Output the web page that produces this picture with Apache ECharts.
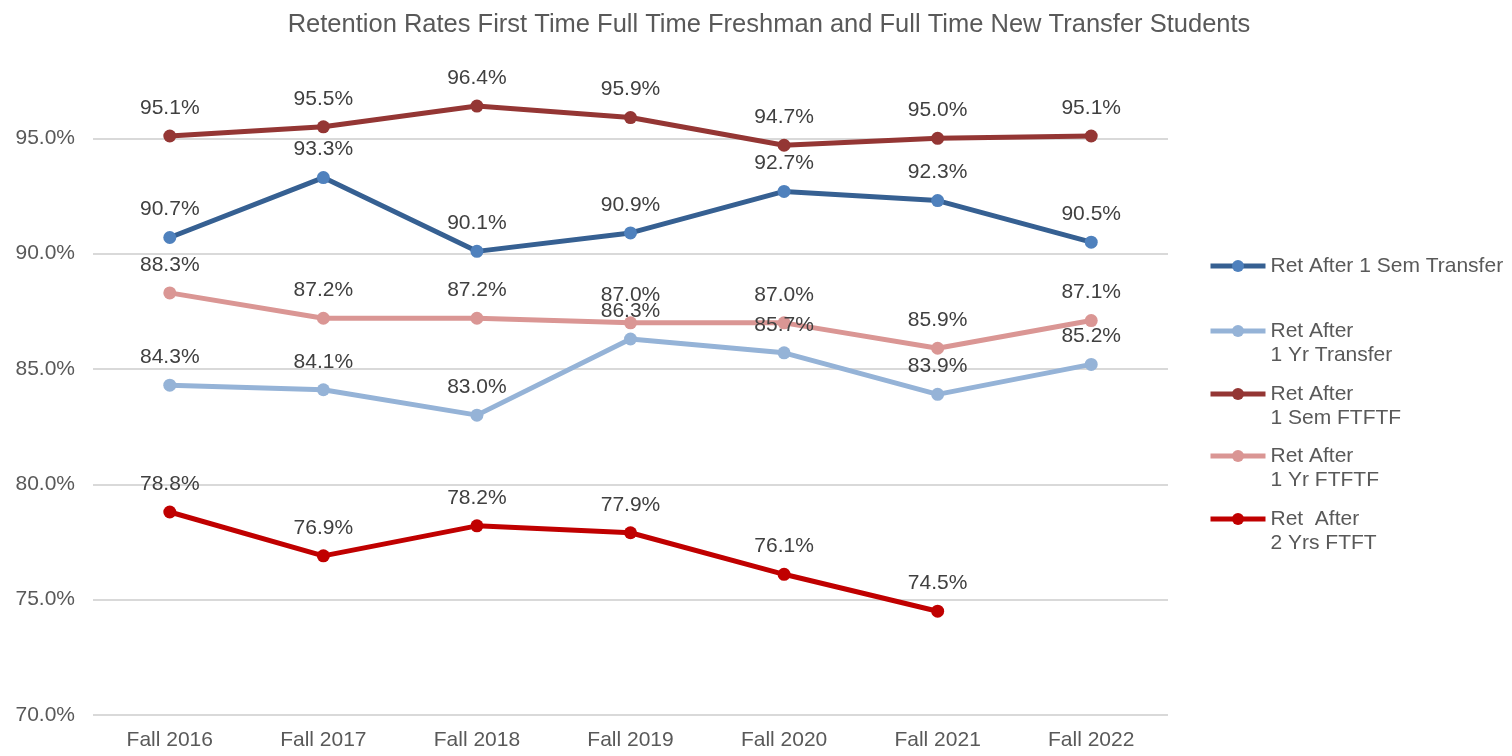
<!DOCTYPE html>
<html>
<head>
<meta charset="utf-8">
<script src="https://cdn.jsdelivr.net/npm/echarts@6/dist/echarts.min.js"></script>
<style>
  html, body { margin: 0; padding: 0; background: #fff; }
  #chart { width: 1512px; height: 756px; }
</style>
</head>
<body>
<div id="chart"></div>
<script>
// data
var terms = ["Fall 2016", "Fall 2017", "Fall 2018", "Fall 2019", "Fall 2020", "Fall 2021", "Fall 2022"];
var semTransfer = [90.7, 93.3, 90.1, 90.9, 92.7, 92.3, 90.5];
var yrTransfer = [84.3, 84.1, 83.0, 86.3, 85.7, 83.9, 85.2];
var semFtftf = [95.1, 95.5, 96.4, 95.9, 94.7, 95.0, 95.1];
var yrFtftf = [88.3, 87.2, 87.2, 87.0, 87.0, 85.9, 87.1];
var twoYrFtft = [78.8, 76.9, 78.2, 77.9, 76.1, 74.5, null];

var names = ["Ret After 1 Sem Transfer", "Ret After 1 Yr Transfer", "Ret After 1 Sem FTFTF", "Ret After 1 Yr FTFTF", "Ret  After 2 Yrs FTFT"];
var legendText = {
  "Ret After 1 Sem Transfer": "Ret After 1 Sem Transfer",
  "Ret After 1 Yr Transfer": "\nRet After\n1 Yr Transfer",
  "Ret After 1 Sem FTFTF": "\nRet After\n1 Sem FTFTF",
  "Ret After 1 Yr FTFTF": "\nRet After\n1 Yr FTFTF",
  "Ret  After 2 Yrs FTFT": "\nRet  After\n2 Yrs FTFT"
};
var legendTops = [254, 295, 358, 420, 483];

var font = "'Liberation Sans', Arial, sans-serif";

function makeSeries(name, data, lineColor, dotColor) {
  return {
    name: name,
    type: "line",
    data: data,
    symbol: "circle",
    symbolSize: 13,
    lineStyle: { color: lineColor, width: 5 },
    itemStyle: { color: dotColor },
    label: {
      show: true,
      position: "top",
      distance: 11,
      color: "#404040",
      fontSize: 21,
      fontFamily: font,
      formatter: function (p) { return p.value.toFixed(1) + "%"; }
    }
  };
}

var myChart = echarts.init(document.getElementById("chart"));

var legends = names.map(function (n, i) {
  return {
    data: [n],
    left: 1208,
    top: legendTops[i],
    padding: 0,
    itemWidth: 55,
    itemHeight: 15,
    lineStyle: { width: 5 },
    formatter: function (name) { return legendText[name]; },
    textStyle: { color: "#595959", fontSize: 21, fontFamily: font, lineHeight: 24 }
  };
});

var option = {
  animation: false,
  title: {
    text: "Retention Rates First Time Full Time Freshman and Full Time New Transfer Students",
    left: 764,
    top: 7,
    textAlign: "center",
    textStyle: { color: "#595959", fontSize: 25.5, fontWeight: "normal", fontFamily: font }
  },
  legend: legends,
  grid: { left: 93, right: 344, top: 23, bottom: 41 },
  xAxis: {
    type: "category",
    data: terms,
    boundaryGap: true,
    axisLine: { show: false },
    axisTick: { show: false },
    axisLabel: { color: "#595959", fontSize: 21, fontFamily: font, margin: 15 }
  },
  yAxis: {
    type: "value",
    min: 70,
    max: 100,
    interval: 5,
    axisLine: { show: false },
    axisTick: { show: false },
    axisLabel: {
      color: "#595959", fontSize: 21, fontFamily: font, margin: 18,
      showMaxLabel: false,
      formatter: function (v) { return v.toFixed(1) + "%"; }
    },
    splitLine: { showMaxLine: false, lineStyle: { color: "#d9d9d9", width: 2 } }
  },
  series: [
    makeSeries(names[0], semTransfer, "#366092", "#4f81bd"),
    makeSeries(names[1], yrTransfer, "#95b3d7", "#95b3d7"),
    makeSeries(names[2], semFtftf, "#943634", "#943634"),
    makeSeries(names[3], yrFtftf, "#da9694", "#da9694"),
    makeSeries(names[4], twoYrFtft, "#c00000", "#c00000")
  ]
};

myChart.setOption(option);
</script>
</body>
</html>
